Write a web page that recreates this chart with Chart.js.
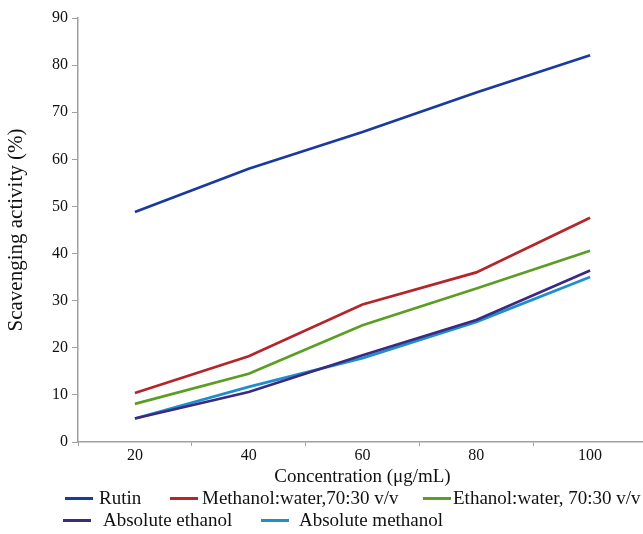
<!DOCTYPE html>
<html><head><meta charset="utf-8">
<script src="https://cdn.jsdelivr.net/npm/chart.js@4.4.0/dist/chart.umd.min.js"></script>
<style>
html,body{margin:0;padding:0;background:#fff;overflow:hidden;}
#wrap{position:relative;width:643px;height:534px;overflow:hidden;}
canvas{position:absolute;left:0;top:0;}
.leg{position:absolute;font-family:"Liberation Serif",serif;font-size:19px;color:#111;white-space:nowrap;line-height:20px;}
.leg .sw{display:inline-block;width:28px;height:3px;vertical-align:middle;margin-top:-2px;}
</style></head>
<body><div id="wrap"><canvas id="c" width="650" height="534"></canvas>
<div id="legend"></div></div>
<script>
const categories = ["20","40","60","80","100"];
const rutin = [48.8, 58.0, 65.8, 74.2, 82.1];
const methanolWater = [10.4, 18.2, 29.2, 36.0, 47.6];
const ethanolWater = [8.1, 14.5, 24.8, 32.6, 40.6];
const absEthanol = [5.0, 10.6, 18.4, 25.9, 36.4];
const absMethanol = [5.0, 11.7, 17.8, 25.5, 35.0];
const yTicks = [0,10,20,30,40,50,60,70,80,90];
const seriesNames = ["Rutin","Methanol:water,70:30 v/v","Ethanol:water, 70:30 v/v","Absolute ethanol","Absolute methanol"];
const seriesColors = ["#1a3aa0","#b3262a","#5a9e22","#3b2a80","#1d8fcc"];
const seriesData = [rutin, methanolWater, ethanolWater, absEthanol, absMethanol];

const font = "'Liberation Serif', serif";
const axisColor = "#a0a0a0";
new Chart(document.getElementById('c'), {
  type: 'line',
  data: {
    labels: categories,
    datasets: seriesData.map((d,i)=>({label: seriesNames[i], data: d, borderColor: seriesColors[i], backgroundColor: seriesColors[i], borderWidth: 2.7, pointRadius: 0, tension: 0}))
  },
  options: {
    responsive: false, animation: false,
    layout: {padding: {left: 0, right: 3, top: 18, bottom: 42}},
    plugins: {legend: {display: false}, tooltip: {enabled: false}},
    scales: {
      x: {
        offset: true,
        grid: {display: true, drawOnChartArea: false, drawTicks: true, tickLength: 4, color: axisColor, offset: true},
        border: {display: true, color: axisColor, width: 1.5},
        ticks: {color: '#111', font: {family: font, size: 16}, padding: 0, maxRotation: 0},
        title: {display: true, text: 'Concentration (μg/mL)', color: '#111', font: {family: font, size: 19}, padding: {top: 4, bottom: 4}},
        afterFit: s => { s.height = 50; }
      },
      y: {
        min: 0, max: 90,
        afterBuildTicks: s => { s.ticks = yTicks.map(v=>({value: v})); },
        grid: {display: true, drawOnChartArea: false, drawTicks: true, tickLength: 6, color: axisColor},
        border: {display: true, color: axisColor, width: 1.5},
        ticks: {color: '#111', font: {family: font, size: 16}, padding: 4},
        title: {display: true, text: 'Scavenging activity (%)', color: '#111', font: {family: font, size: 21}, padding: {top: 4, bottom: 4}},
        afterFit: s => { s.width = 78; }
      }
    }
  }
});

// HTML legend
const legPos = [[65,488,6],[170,488,4],[423,488,2],[63,510,12],[261,510,10]];
const legEl = document.getElementById('legend');
seriesNames.forEach((n,i)=>{
  const d = document.createElement('div');
  d.className = 'leg';
  d.style.left = legPos[i][0]+'px';
  d.style.top = legPos[i][1]+'px';
  d.innerHTML = '<span class="sw" style="background:'+seriesColors[i]+';margin-right:'+legPos[i][2]+'px"></span>'+n;
  legEl.appendChild(d);
});
</script></body></html>
